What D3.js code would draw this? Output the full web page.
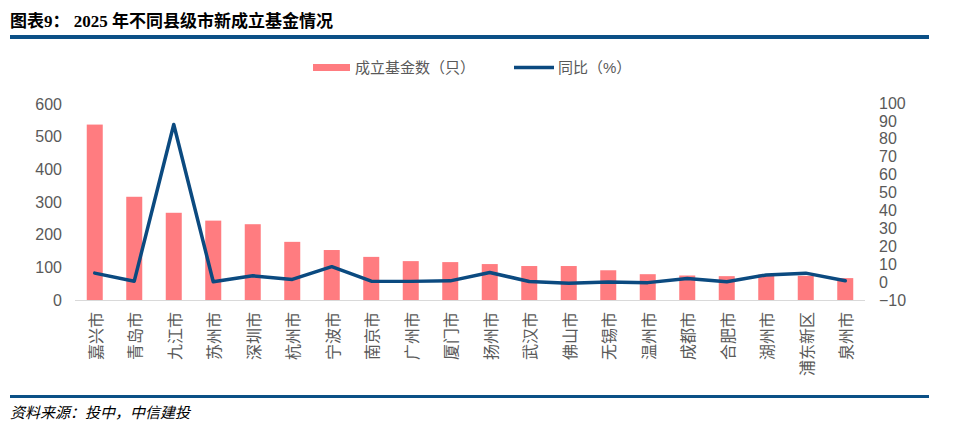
<!DOCTYPE html>
<html>
<head>
<meta charset="utf-8">
<script src="https://cdn.jsdelivr.net/npm/d3@7"></script>
<style>
  body { margin: 0; background: #fff; }
  svg text { font-family: "Liberation Sans", Arial, "Noto Sans CJK SC", sans-serif; }
</style>
</head>
<body>
<svg id="chart" width="960" height="430"></svg>
<script>
var cities = ['嘉兴市', '青岛市', '九江市', '苏州市', '深圳市', '杭州市', '宁波市', '南京市', '广州市', '厦门市',
              '扬州市', '武汉市', '佛山市', '无锡市', '温州市', '成都市', '合肥市', '湖州市', '浦东新区', '泉州市']
var fundCounts = [537, 316, 267, 243, 232, 178, 153, 132, 119, 116,
                  110, 104, 104, 91, 79, 75, 73, 78, 74, 67]
var yoy = [5, 0.5, 88, 0.2, 3.5, 1.5, 8.6, 0.5, 0.4, 0.7,
           5.4, 0.3, -0.7, 0, -0.3, 2, 0.2, 4, 5, 0.7]
var leftTicks = [0, 100, 200, 300, 400, 500, 600]
var rightTicks = [-10, 0, 10, 20, 30, 40, 50, 60, 70, 80, 90, 100]

var barColor = '#ff7c80', lineColor = '#0b4a80', textColor = '#595959', ruleColor = '#0b5086'
var svg = d3.select('#chart')

// header
svg.append('text').attr('x', 10).attr('y', 27)
  .style('font-family', '"Liberation Serif", "Noto Sans CJK SC", serif')
  .style('font-weight', 'bold').style('font-size', '17px').attr('fill', '#000')
  .text('图表9：  2025 年不同县级市新成立基金情况')
svg.append('rect').attr('x', 10).attr('y', 35).attr('width', 919).attr('height', 4).attr('fill', ruleColor)

// footer
svg.append('rect').attr('x', 10).attr('y', 395).attr('width', 919).attr('height', 3).attr('fill', ruleColor)
svg.append('text').attr('x', 10).attr('y', 418)
  .style('font-family', '"Noto Sans CJK SC", sans-serif').style('font-style', 'italic')
  .style('font-size', '15px').attr('fill', '#000')
  .text('资料来源：投中，中信建投')

var x = d3.scaleBand().domain(cities).range([75, 865])
var yL = d3.scaleLinear().domain([0, 600]).range([300, 104])
var yR = d3.scaleLinear().domain([-10, 100]).range([300, 103])

// left axis
var axL = svg.append('g').attr('transform', 'translate(62,0)')
  .call(d3.axisLeft(yL).tickValues(leftTicks).tickSize(0).tickPadding(0))
axL.select('.domain').remove()
axL.selectAll('text').style('font-size', '16px').attr('fill', textColor)
  .style('font-family', '"Liberation Sans", Arial, sans-serif')

// right axis
var axR = svg.append('g').attr('transform', 'translate(879,0)')
  .call(d3.axisRight(yR).tickValues(rightTicks).tickSize(0).tickPadding(0))
axR.select('.domain').remove()
axR.selectAll('text').style('font-size', '16px').attr('fill', textColor)
  .style('font-family', '"Liberation Sans", Arial, sans-serif')

// bars
var bw = 16
svg.append('g').selectAll('rect').data(cities).enter().append('rect')
  .attr('x', (c) => x(c) + x.bandwidth() / 2 - bw / 2)
  .attr('y', (c, i) => yL(fundCounts[i]))
  .attr('width', bw)
  .attr('height', (c, i) => yL(0) - yL(fundCounts[i]))
  .attr('fill', barColor)

// category axis line
svg.append('line').attr('x1', 75).attr('x2', 865).attr('y1', 300.5).attr('y2', 300.5)
  .attr('stroke', '#d9d9d9').attr('stroke-width', 1)

// line
var line = d3.line()
  .x((d, i) => x(cities[i]) + x.bandwidth() / 2)
  .y((d) => yR(d))
svg.append('path').datum(yoy).attr('d', line)
  .attr('fill', 'none').attr('stroke', lineColor).attr('stroke-width', 3.5)
  .attr('stroke-linejoin', 'round').attr('stroke-linecap', 'round')

// rotated category labels, reading bottom to top, ends aligned at the top
svg.append('g').selectAll('text').data(cities).enter().append('text')
  .attr('transform', (c) => 'translate(' + (x(c) + x.bandwidth() / 2) + ',312) rotate(-90)')
  .attr('text-anchor', 'end').attr('dominant-baseline', 'central')
  .attr('fill', textColor).style('font-size', '16px')
  .style('font-family', '"Noto Sans CJK SC", sans-serif')
  .text((c) => c)

// legend
var lg = svg.append('g').style('font-family', '"Noto Sans CJK SC", sans-serif')
lg.append('rect').attr('x', 313).attr('y', 64).attr('width', 37).attr('height', 7).attr('fill', barColor)
lg.append('text').attr('x', 355).attr('y', 73).style('font-size', '15px').attr('fill', textColor)
  .text('成立基金数（只）')
lg.append('line').attr('x1', 514).attr('x2', 554).attr('y1', 67.5).attr('y2', 67.5)
  .attr('stroke', lineColor).attr('stroke-width', 3.5)
lg.append('text').attr('x', 558).attr('y', 73).style('font-size', '15px').attr('fill', textColor)
  .text('同比（%）')
</script>
</body>
</html>
